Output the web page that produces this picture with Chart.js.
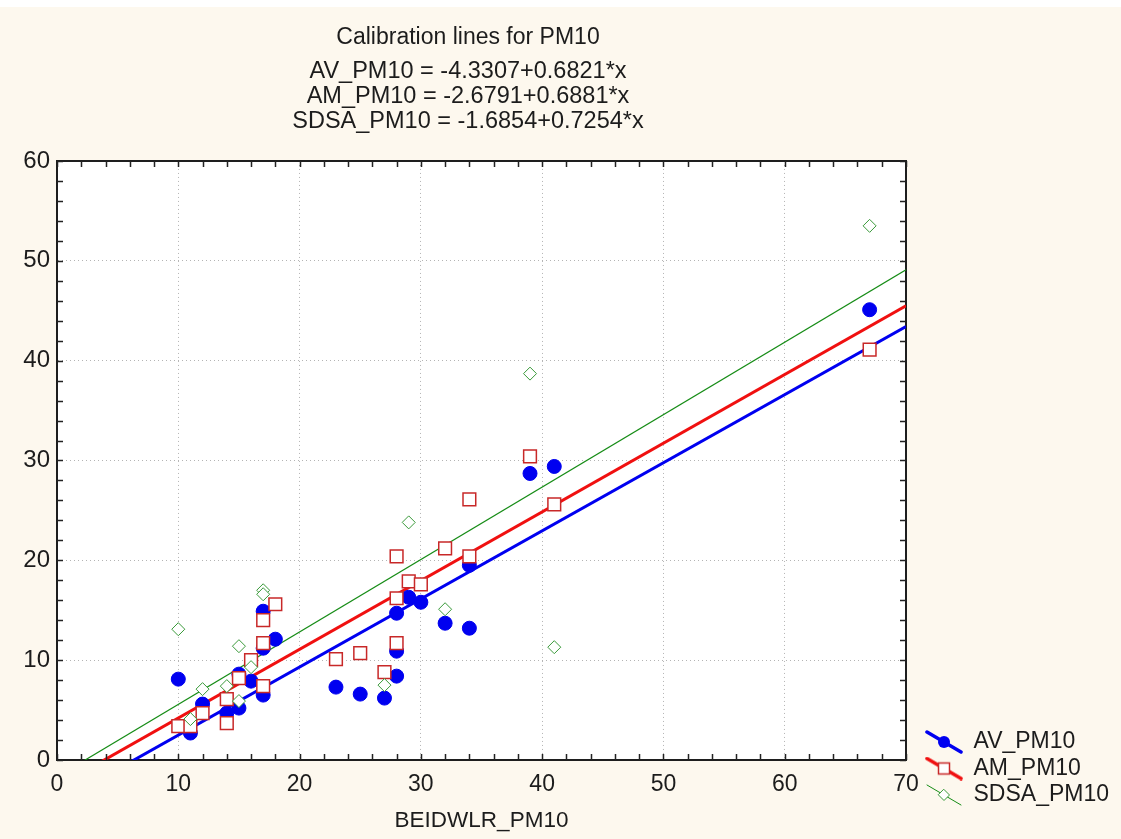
<!DOCTYPE html>
<html>
<head>
<meta charset="utf-8">
<script src="https://cdn.jsdelivr.net/npm/chart.js@4.4.1/dist/chart.umd.min.js"></script>
<style>
  html, body { margin: 0; padding: 0; background: #fdf8ee; }
  #wrap { width: 1121px; height: 839px; position: relative; }
</style>
</head>
<body>
<div id="wrap"><canvas id="c"></canvas></div>
<script>
// ---------------- data ----------------
const titleText = 'Calibration lines for PM10';
const equationLines = [
  'AV_PM10 = -4.3307+0.6821*x',
  'AM_PM10 = -2.6791+0.6881*x',
  'SDSA_PM10 = -1.6854+0.7254*x'
];
const seriesNames = ['AV_PM10', 'AM_PM10', 'SDSA_PM10'];
const xAxisTitle = 'BEIDWLR_PM10';

const avX = [10, 11, 12, 14, 15, 15, 16, 17, 17, 17, 18, 23, 25, 27, 28, 28, 28, 29, 30, 32, 34, 34, 39, 41, 67];
const avY = [8.1, 2.7, 5.6, 4.7, 5.2, 8.6, 7.9, 14.9, 11.2, 6.5, 12.1, 7.3, 6.6, 6.2, 14.7, 10.9, 8.4, 16.3, 15.8, 13.7, 13.2, 19.5, 28.7, 29.4, 45.1];

const amX = [10, 11, 12, 14, 14, 15, 16, 17, 17, 17, 18, 23, 25, 27, 28, 28, 28, 29, 30, 32, 34, 34, 39, 41, 67];
const amY = [3.4, 3.4, 4.7, 6.1, 3.7, 8.2, 10.0, 14.0, 11.7, 7.4, 15.6, 10.1, 10.7, 8.8, 20.4, 16.2, 11.7, 17.9, 17.6, 21.2, 26.1, 20.4, 30.4, 25.6, 41.1];

const sdsaX = [10, 11, 12, 14, 15, 15, 16, 17, 17, 27, 29, 32, 39, 41, 67];
const sdsaY = [13.1, 4.1, 7.1, 7.4, 11.4, 5.9, 9.3, 17.0, 16.6, 7.5, 23.8, 15.1, 38.7, 11.3, 53.5];

// regression coefficients (from the chart's equations)
const intercepts = [-4.3307, -2.6791, -1.6854];
const slopes = [0.6821, 0.6881, 0.7254];
const lineXRange = [0, 70];

const xTicks = [0, 10, 20, 30, 40, 50, 60, 70];
const yTicks = [0, 10, 20, 30, 40, 50, 60];

// ---------------- styles ----------------
const BLUE = '#0000f0';
const RED = '#f01010';
const SQUARE_RED = '#c82828';
const GREEN = '#168c16';
const DIAMOND_GREEN = '#3a9a3a';
const CREAM = '#fdf8ee';
const TEXT = '#1c1c1c';

function hasFont(name) {
  const c = document.createElement('canvas').getContext('2d');
  const s = 'BEIDWLR_PM10 0123456789';
  c.font = '40px monospace';
  const a = c.measureText(s).width;
  c.font = '40px "' + name + '", monospace';
  const b = c.measureText(s).width;
  return Math.abs(a - b) > 0.5;
}
const narrowOK = hasFont('Liberation Sans Narrow');
const REG = '"Liberation Sans", Arial, sans-serif';
const NARROW = narrowOK ? '"Liberation Sans Narrow", ' + REG : REG;
const xTickFont = narrowOK ? { family: NARROW, size: 27 } : { family: REG, size: 23 };
const xTitleFont = narrowOK ? { family: NARROW, size: 27 } : { family: REG, size: 22.5 };

const toPts = (xs, ys) => xs.map((x, i) => ({ x: x, y: ys[i] }));
const linePts = (k) => lineXRange.map(x => ({ x: x, y: intercepts[k] + slopes[k] * x }));

// legend icons
function makeIcon(color, lw, marker) {
  const cv = document.createElement('canvas');
  cv.width = 38; cv.height = 24;
  const g = cv.getContext('2d');
  g.strokeStyle = color; g.lineWidth = lw; g.lineCap = 'round';
  g.beginPath(); g.moveTo(2, 2); g.lineTo(36, 22); g.stroke();
  const cx = 19, cy = 12;
  if (marker === 'circle') {
    g.fillStyle = color; g.beginPath(); g.arc(cx, cy, 6, 0, Math.PI * 2); g.fill();
  } else if (marker === 'square') {
    g.fillStyle = '#fff'; g.strokeStyle = SQUARE_RED; g.lineWidth = 1.5;
    g.fillRect(cx - 5.5, cy - 5.5, 11, 11); g.strokeRect(cx - 5.5, cy - 5.5, 11, 11);
  } else {
    g.fillStyle = '#fff'; g.strokeStyle = DIAMOND_GREEN; g.lineWidth = 1;
    g.beginPath(); g.moveTo(cx, cy - 5.5); g.lineTo(cx + 5.5, cy); g.lineTo(cx, cy + 5.5); g.lineTo(cx - 5.5, cy); g.closePath();
    g.fill(); g.stroke();
  }
  return cv;
}
const icons = [makeIcon(BLUE, 3.5, 'circle'), makeIcon(RED, 3.5, 'square'), makeIcon(GREEN, 1, 'diamond')];

// ---------------- plugins ----------------
const bgPlugin = {
  id: 'bg',
  beforeDraw(chart) {
    const { ctx, chartArea: a } = chart;
    ctx.save();
    ctx.fillStyle = CREAM; ctx.fillRect(0, 0, chart.width, chart.height);
    ctx.fillStyle = '#ffffff'; ctx.fillRect(0, 0, chart.width, 7);
    ctx.fillRect(a.left, a.top, a.right - a.left, a.bottom - a.top);
    ctx.restore();
  }
};

const innerTicks = {
  id: 'innerTicks',
  afterDraw(chart) {
    const { ctx, chartArea: a, scales } = chart;
    const L = 6;
    ctx.save();
    ctx.strokeStyle = '#222'; ctx.lineWidth = 1.5;
    ctx.beginPath();
    for (let v = 0; v <= 70; v += 2) {
      const px = Math.round(scales.x.getPixelForValue(v)) + 0.5;
      ctx.moveTo(px, a.bottom); ctx.lineTo(px, a.bottom - L);
      ctx.moveTo(px, a.top); ctx.lineTo(px, a.top + L);
    }
    for (let v = 0; v <= 60; v += 2) {
      const py = Math.round(scales.y.getPixelForValue(v)) + 0.5;
      ctx.moveTo(a.left, py); ctx.lineTo(a.left + L, py);
      ctx.moveTo(a.right, py); ctx.lineTo(a.right - L, py);
    }
    ctx.stroke();
    ctx.restore();
  }
};

const legendPlace = {
  id: 'legendPlace',
  afterLayout(chart) {
    const lg = chart.legend;
    if (!lg) return;
    lg.left = 922.5; lg.right = 1121; lg.width = lg.right - lg.left;
    lg.top = 727; lg.bottom = 839; lg.height = lg.bottom - lg.top;
  }
};

// ---------------- chart ----------------
const gridCommon = { color: '#b4b4b4', lineWidth: 1, drawTicks: false, tickLength: 0 };
const borderCommon = { display: true, color: '#1e1e1e', width: 2, dash: [1, 3] };

new Chart(document.getElementById('c'), {
  data: {
    datasets: [
      { type: 'scatter', label: seriesNames[2], data: toPts(sdsaX, sdsaY), order: 1,
        pointStyle: 'rectRot', pointRadius: 6.5, pointHoverRadius: 6.5, pointBackgroundColor: '#ffffff',
        pointBorderColor: DIAMOND_GREEN, pointBorderWidth: 1, showLine: false },
      { type: 'scatter', label: seriesNames[1], data: toPts(amX, amY), order: 2,
        pointStyle: 'rect', pointRadius: 9, pointHoverRadius: 9, pointBackgroundColor: '#ffffff',
        pointBorderColor: SQUARE_RED, pointBorderWidth: 1.5, showLine: false },
      { type: 'scatter', label: seriesNames[0], data: toPts(avX, avY), order: 3,
        pointStyle: 'circle', pointRadius: 7, pointHoverRadius: 7, pointBackgroundColor: BLUE,
        pointBorderColor: BLUE, pointBorderWidth: 1, showLine: false },
      { type: 'line', label: 'fitSDSA', data: linePts(2), order: 4, borderColor: GREEN, borderWidth: 1.2,
        pointRadius: 0, fill: false, tension: 0 },
      { type: 'line', label: 'fitAM', data: linePts(1), order: 5, borderColor: RED, borderWidth: 3,
        pointRadius: 0, fill: false, tension: 0 },
      { type: 'line', label: 'fitAV', data: linePts(0), order: 6, borderColor: BLUE, borderWidth: 3,
        pointRadius: 0, fill: false, tension: 0 }
    ]
  },
  options: {
    responsive: true,
    maintainAspectRatio: false,
    animation: false,
    events: [],
    layout: { padding: { left: 0, right: 185, top: 0, bottom: 0 } },
    scales: {
      x: {
        type: 'linear', position: 'bottom', min: 0, max: 70,
        afterBuildTicks: (s) => { s.ticks = xTicks.map(v => ({ value: v })); },
        ticks: { color: TEXT, font: xTickFont, padding: 11, maxRotation: 0 },
        grid: gridCommon, border: borderCommon,
        title: { display: true, text: xAxisTitle, color: TEXT, font: xTitleFont, padding: { top: 0, bottom: 5 } },
        afterFit: (s) => { s.height = 79; }
      },
      y: {
        type: 'linear', position: 'left', min: 0, max: 60,
        afterBuildTicks: (s) => { s.ticks = yTicks.map(v => ({ value: v })); },
        ticks: { color: TEXT, font: { family: REG, size: 24 }, padding: 7 },
        grid: gridCommon, border: borderCommon,
        afterFit: (s) => { s.width = 57; }
      },
      x2: {
        type: 'linear', position: 'top', min: 0, max: 70,
        ticks: { display: false }, grid: { display: false, drawTicks: false },
        border: { display: true, color: '#1e1e1e', width: 2 },
        afterFit: (s) => { s.height = 0; }
      },
      y2: {
        type: 'linear', position: 'right', min: 0, max: 60,
        ticks: { display: false }, grid: { display: false, drawTicks: false },
        border: { display: true, color: '#1e1e1e', width: 2 },
        afterFit: (s) => { s.width = 30; }
      }
    },
    plugins: {
      title: {
        display: true, text: titleText, color: TEXT,
        font: { family: REG, size: 23, weight: 'normal', lineHeight: 1.15 },
        padding: { top: 24, bottom: 0 }
      },
      subtitle: {
        display: true, text: equationLines, color: TEXT,
        font: { family: REG, size: 23.5, weight: 'normal', lineHeight: 25 / 23.5 },
        padding: { top: 9, bottom: 26.5 }
      },
      legend: {
        display: true, position: 'chartArea', align: 'start',
        labels: {
          usePointStyle: true, pointStyleWidth: 36, padding: 3.5, color: TEXT,
          font: { family: REG, size: 23 },
          generateLabels: () => seriesNames.map((n, i) => ({
            text: n, pointStyle: icons[i], fillStyle: 'transparent', strokeStyle: 'transparent',
            lineWidth: 0, hidden: false, datasetIndex: i, fontColor: TEXT
          }))
        }
      },
      tooltip: { enabled: false }
    }
  },
  plugins: [bgPlugin, innerTicks, legendPlace]
});
</script>
</body>
</html>
